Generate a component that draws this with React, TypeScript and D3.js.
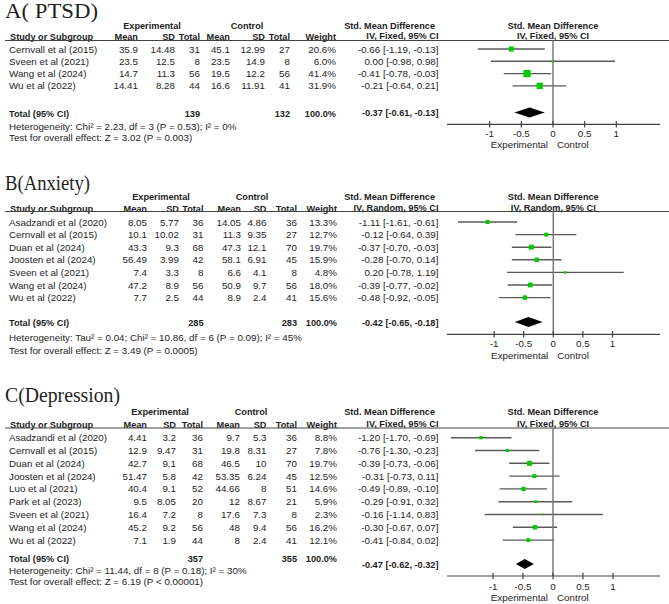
import React from "react"
import { scaleLinear } from "d3"

// A (PTSD)
const ptsdStudies = ["Cernvall et al (2015)", "Sveen et al (2021)", "Wang et al (2024)", "Wu et al (2022)"]
const ptsdExp = [[35.9, 14.48, 31], [23.5, 12.5, 8], [14.7, 11.3, 56], [14.41, 8.28, 44]]
const ptsdCtl = [[45.1, 12.99, 27], [23.5, 14.9, 8], [19.5, 12.2, 56], [16.6, 11.91, 41]]
const ptsdWeight = [20.6, 6.0, 41.4, 31.9]
const ptsdSmd = [[-0.66, -1.19, -0.13], [0.0, -0.98, 0.98], [-0.41, -0.78, -0.03], [-0.21, -0.64, 0.21]]
const ptsdTotalN = [139, 132]
const ptsdTotalSmd = [-0.37, -0.61, -0.13]
const ptsdHet = "Heterogeneity: Chi² = 2.23, df = 3 (P = 0.53); I² = 0%"
const ptsdTest = "Test for overall effect: Z = 3.02 (P = 0.003)"

// B (Anxiety)
const anxStudies = [
  "Asadzandi et al (2020)", "Cernvall et al (2015)", "Duan et al (2024)", "Joosten et al (2024)",
  "Sveen et al (2021)", "Wang et al (2024)", "Wu et al (2022)",
]
const anxExp = [[8.05, 5.77, 36], [10.1, 10.02, 31], [43.3, 9.3, 68], [56.49, 3.99, 42], [7.4, 3.3, 8], [47.2, 8.9, 56], [7.7, 2.5, 44]]
const anxCtl = [[14.05, 4.86, 36], [11.3, 9.35, 27], [47.3, 12.1, 70], [58.1, 6.91, 45], [6.6, 4.1, 8], [50.9, 9.7, 56], [8.9, 2.4, 41]]
const anxWeight = [13.3, 12.7, 19.7, 15.9, 4.8, 18.0, 15.6]
const anxSmd = [
  [-1.11, -1.61, -0.61], [-0.12, -0.64, 0.39], [-0.37, -0.7, -0.03], [-0.28, -0.7, 0.14],
  [0.2, -0.78, 1.19], [-0.39, -0.77, -0.02], [-0.48, -0.92, -0.05],
]
const anxTotalN = [285, 283]
const anxTotalSmd = [-0.42, -0.65, -0.18]
const anxHet = "Heterogeneity: Tau² = 0.04; Chi² = 10.86, df = 6 (P = 0.09); I² = 45%"
const anxTest = "Test for overall effect: Z = 3.49 (P = 0.0005)"

// C (Depression)
const depStudies = [
  "Asadzandi et al (2020)", "Cernvall et al (2015)", "Duan et al (2024)", "Joosten et al (2024)", "Luo et al (2021)",
  "Park et al (2023)", "Sveen et al (2021)", "Wang et al (2024)", "Wu et al (2022)",
]
const depExp = [[4.41, 3.2, 36], [12.9, 9.47, 31], [42.7, 9.1, 68], [51.47, 5.8, 42], [40.4, 9.1, 52], [9.5, 8.05, 20], [16.4, 7.2, 8], [45.2, 9.2, 56], [7.1, 1.9, 44]]
const depCtl = [[9.7, 5.3, 36], [19.8, 8.31, 27], [46.5, 10, 70], [53.35, 6.24, 45], [44.66, 8, 51], [12, 8.67, 21], [17.6, 7.3, 8], [48, 9.4, 56], [8, 2.4, 41]]
const depWeight = [8.8, 7.8, 19.7, 12.5, 14.6, 5.9, 2.3, 16.2, 12.1]
const depSmd = [
  [-1.2, -1.7, -0.69], [-0.76, -1.3, -0.23], [-0.39, -0.73, -0.06], [-0.31, -0.73, 0.11], [-0.49, -0.89, -0.1],
  [-0.29, -0.91, 0.32], [-0.16, -1.14, 0.83], [-0.3, -0.67, 0.07], [-0.41, -0.84, 0.02],
]
const depTotalN = [357, 355]
const depTotalSmd = [-0.47, -0.62, -0.32]
const depHet = "Heterogeneity: Chi² = 11.44, df = 8 (P = 0.18); I² = 30%"
const depTest = "Test for overall effect: Z = 6.19 (P < 0.00001)"

const tickValues = [-1, -0.5, 0, 0.5, 1]
const tickLabels = ["-1", "-0.5", "0", "0.5", "1"]

const sans = "'Liberation Sans', Arial, sans-serif"
const serif = "'Liberation Serif', 'Times New Roman', serif"
const ink = "#1e1e1e"

const panels = [
  {
    title: "A( PTSD)", model: "IV, Fixed, 95% CI",
    studies: ptsdStudies, exp: ptsdExp, ctl: ptsdCtl, weight: ptsdWeight, smd: ptsdSmd,
    totalN: ptsdTotalN, totalSmd: ptsdTotalSmd, het: ptsdHet, test: ptsdTest,
    lay: {
      titleY: 18.2, titleW: 93, groupY: 25, headY: 36, lineY: 40.5, rowY0: 49, rowStep: 12.3,
      totalY: 113, hetY: 126, testY: 137.5, forestTotalY: 112.5, axisY: 124.3, tickY: 133, sideY: 144,
      zero: 553, unit: 63.3,
      cols: { mean: 138, sd: 175, n: 200, cmean: 230, csd: 265, cn: 290, weight: 336, expHdr: 152, ctlHdr: 247 },
    },
  },
  {
    title: "B(Anxiety)", model: "IV, Random, 95% CI",
    studies: anxStudies, exp: anxExp, ctl: anxCtl, weight: anxWeight, smd: anxSmd,
    totalN: anxTotalN, totalSmd: anxTotalSmd, het: anxHet, test: anxTest,
    lay: {
      titleY: 190, titleW: 85, groupY: 196, headY: 208, lineY: 211.5, rowY0: 222, rowStep: 12.6,
      totalY: 322.7, hetY: 337, testY: 350.5, forestTotalY: 322, axisY: 334.3, tickY: 343.3, sideY: 355,
      zero: 553.3, unit: 59.2,
      cols: { mean: 147, sd: 179, n: 203.5, cmean: 241, csd: 266.5, cn: 297, weight: 337, expHdr: 161, ctlHdr: 252 },
    },
  },
  {
    title: "C(Depression)", model: "IV, Fixed, 95% CI",
    studies: depStudies, exp: depExp, ctl: depCtl, weight: depWeight, smd: depSmd,
    totalN: depTotalN, totalSmd: depTotalSmd, het: depHet, test: depTest,
    lay: {
      titleY: 402, titleW: 115, groupY: 411, headY: 424, lineY: 428, rowY0: 437.7, rowStep: 12.8,
      totalY: 558.3, hetY: 570, testY: 581, forestTotalY: 564, axisY: 576, tickY: 586, sideY: 597,
      zero: 553, unit: 60,
      cols: { mean: 147, sd: 176, n: 203, cmean: 240, csd: 266.5, cn: 297, weight: 337, expHdr: 160, ctlHdr: 251 },
    },
  },
]

const fmtCi = (d: number[]) => `${d[0].toFixed(2)} [${d[1].toFixed(2)}, ${d[2].toFixed(2)}]`

const T = ({ x, y, children, anchor = "start", bold = false }: any) => (
  <text
    x={x}
    y={y + 3.5}
    textAnchor={anchor}
    fontWeight={bold ? "bold" : "normal"}
    fontSize={bold ? 9.2 : 9.8}
  >
    {children}
  </text>
)

const ForestPanel = ({ p }: { p: (typeof panels)[number] }) => {
  const L = p.lay
  const c = L.cols
  const x = scaleLinear().domain([-1, 1]).range([L.zero - L.unit, L.zero + L.unit])
  const axisX0 = 447
  const axisX1 = 660
  const smdRight = 438.5
  const [tLo, tHi] = [x(p.totalSmd[1]), x(p.totalSmd[2])]
  const tMid = x(p.totalSmd[0])

  return (
    <g fontFamily={sans} fontSize={10} fill={ink}>
      <text
        x={5} y={L.titleY} fontFamily={serif} fontSize={20.5}
        textLength={L.titleW} lengthAdjust="spacingAndGlyphs"
      >
        {p.title}
      </text>

      {/* header */}
      <T x={c.expHdr} y={L.groupY} anchor="middle" bold>Experimental</T>
      <T x={c.ctlHdr} y={L.groupY} anchor="middle" bold>Control</T>
      <T x={435} y={L.groupY} anchor="end" bold>Std. Mean Difference</T>
      <T x={L.zero} y={L.groupY} anchor="middle" bold>Std. Mean Difference</T>
      <T x={10} y={L.headY} bold>Study or Subgroup</T>
      <T x={c.mean} y={L.headY} anchor="end" bold>Mean</T>
      <T x={c.sd} y={L.headY} anchor="end" bold>SD</T>
      <T x={c.n} y={L.headY} anchor="end" bold>Total</T>
      <T x={c.cmean} y={L.headY} anchor="end" bold>Mean</T>
      <T x={c.csd} y={L.headY} anchor="end" bold>SD</T>
      <T x={c.cn} y={L.headY} anchor="end" bold>Total</T>
      <T x={c.weight} y={L.headY} anchor="end" bold>Weight</T>
      <T x={smdRight} y={L.headY - 1} anchor="end" bold>{p.model}</T>
      <T x={L.zero} y={L.headY - 1} anchor="middle" bold>{p.model}</T>
      <line x1={5} x2={669} y1={L.lineY} y2={L.lineY} stroke="#444" strokeWidth={1.2} />

      {/* rows */}
      {p.studies.map((s, i) => {
        const y = L.rowY0 + i * L.rowStep
        const [m, lo, hi] = p.smd[i]
        const size = Math.max(1.6, 1.12 * Math.sqrt(p.weight[i]))
        return (
          <g key={s}>
            <T x={9} y={y}>{s}</T>
            <T x={c.mean} y={y} anchor="end">{String(p.exp[i][0])}</T>
            <T x={c.sd} y={y} anchor="end">{String(p.exp[i][1])}</T>
            <T x={c.n} y={y} anchor="end">{String(p.exp[i][2])}</T>
            <T x={c.cmean} y={y} anchor="end">{String(p.ctl[i][0])}</T>
            <T x={c.csd} y={y} anchor="end">{String(p.ctl[i][1])}</T>
            <T x={c.cn} y={y} anchor="end">{String(p.ctl[i][2])}</T>
            <T x={c.weight} y={y} anchor="end">{p.weight[i].toFixed(1)}%</T>
            <T x={smdRight} y={y} anchor="end">{fmtCi(p.smd[i])}</T>
            <line x1={x(lo)} x2={x(hi)} y1={y} y2={y} stroke="#5a5a5a" strokeWidth={1.4} />
            <rect x={x(m) - size / 2} y={y - size / 2} width={size} height={size} fill="#00cc00" />
          </g>
        )
      })}

      {/* totals */}
      <T x={9} y={L.totalY} bold>Total (95% CI)</T>
      <T x={c.n} y={L.totalY} anchor="end" bold>{String(p.totalN[0])}</T>
      <T x={c.cn} y={L.totalY} anchor="end" bold>{String(p.totalN[1])}</T>
      <T x={c.weight} y={L.totalY} anchor="end" bold>100.0%</T>
      <T x={smdRight} y={L.forestTotalY} anchor="end" bold>{fmtCi(p.totalSmd)}</T>
      <T x={9} y={L.hetY}>{p.het}</T>
      <T x={9} y={L.testY}>{p.test}</T>

      {/* forest axis */}
      <line x1={L.zero} x2={L.zero} y1={L.lineY} y2={L.axisY} stroke="#7a7a7a" strokeWidth={1.5} />
      <path
        d={`M${tLo},${L.forestTotalY} L${tMid},${L.forestTotalY - 5} L${tHi},${L.forestTotalY} L${tMid},${L.forestTotalY + 5} Z`}
        fill="#000"
      />
      <line x1={axisX0} x2={axisX1} y1={L.axisY} y2={L.axisY} stroke="#444" strokeWidth={1.2} />
      {tickValues.map((v, i) => (
        <g key={v}>
          <line x1={x(v)} x2={x(v)} y1={L.axisY - 3.3} y2={L.axisY + 3.3} stroke="#444" strokeWidth={1.2} />
          <T x={x(v)} y={L.tickY} anchor="middle">{tickLabels[i]}</T>
        </g>
      ))}
      <T x={L.zero - 5} y={L.sideY} anchor="end">Experimental</T>
      <T x={L.zero + 4} y={L.sideY}>Control</T>
    </g>
  )
}

export default function App() {
  return (
    <svg
      width={669}
      height={604}
      style={{ position: "absolute", left: 0, top: 0, background: "#fff" }}
    >
      <rect width={669} height={604} fill="#fff" />
      {panels.map((p) => (
        <ForestPanel key={p.title} p={p} />
      ))}
    </svg>
  )
}
